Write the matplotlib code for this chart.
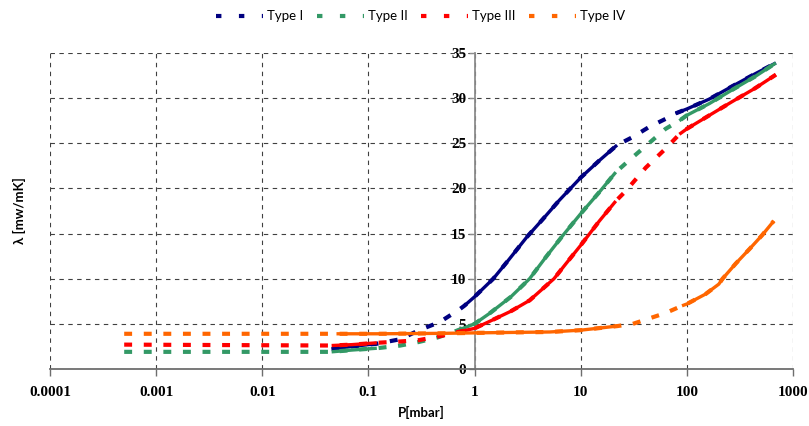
import numpy as np
import matplotlib
matplotlib.use("Agg")
import matplotlib.pyplot as plt
from matplotlib.lines import Line2D
from matplotlib.ticker import FixedLocator, FixedFormatter

# pressure [mbar] / conductivity [mW/mK]; flag 1 = measured (solid), 0 = gap (dashed)
p_type1 = [0.045, 0.07, 0.12, 0.2, 0.3, 0.47, 0.72, 0.8, 1.0, 1.5, 2.1, 3.1, 4.4, 6.3,
           10, 15, 22, 31, 44, 63, 78, 100, 163, 266, 440, 690]
l_type1 = [2.2, 2.5, 2.8, 3.3, 4.3, 5.2, 6.6, 7.0, 8.0, 10.0, 12.1, 14.6, 16.6, 18.7,
           21.2, 23.1, 24.8, 25.7, 26.8, 27.7, 28.3, 28.8, 29.9, 31.3, 32.7, 33.9]
f_type1 = [1, 1, 1, 0, 0, 0, 0, 1, 1, 1, 1, 1, 1, 1,
           1, 1, 1, 0, 0, 0, 1, 1, 1, 1, 1, 1]

p_type2 = [0.0005, 0.045, 0.07, 0.12, 0.2, 0.3, 0.45, 0.6, 0.7, 1.0, 1.4, 2.2, 3.3, 4.7,
           6.8, 10, 15, 21.4, 28.5, 41, 63, 85, 100, 163, 266, 440, 690]
l_type2 = [1.9, 1.9, 2.1, 2.3, 2.6, 3.0, 3.5, 4.0, 4.3, 5.0, 6.2, 8.0, 10.0, 12.4,
           14.8, 17.2, 19.6, 21.8, 23.1, 24.7, 26.6, 27.5, 28.1, 29.4, 30.9, 32.4, 33.9]
f_type2 = [0, 1, 1, 1, 0, 0, 0, 0, 1, 1, 1, 1, 1, 1,
           1, 1, 1, 1, 0, 0, 0, 1, 1, 1, 1, 1, 1]

p_type3 = [0.0005, 0.045, 0.07, 0.12, 0.2, 0.3, 0.5, 0.7, 1.0, 1.4, 2.2, 3.3, 5.6, 7.3,
           10, 15, 21.4, 26.5, 41, 63, 85, 100, 163, 266, 440, 690]
l_type3 = [2.7, 2.6, 2.7, 2.9, 3.05, 3.2, 3.7, 4.1, 4.5, 5.3, 6.4, 7.6, 10.0, 11.7,
           13.7, 16.4, 18.6, 19.7, 22.3, 24.4, 26.0, 26.6, 28.1, 29.6, 31.1, 32.6]
f_type3 = [0, 1, 1, 1, 0, 0, 0, 1, 1, 1, 1, 1, 1, 1,
           1, 1, 1, 0, 0, 0, 1, 1, 1, 1, 1, 1]

p_type4 = [0.0005, 0.05, 0.12, 0.5, 1.0, 5.1, 10, 22, 31, 63, 90, 100, 150, 200,
           217, 290, 390, 510, 660]
l_type4 = [3.9, 3.9, 3.9, 3.95, 4.0, 4.1, 4.3, 4.75, 5.0, 6.2, 7.0, 7.2, 8.3, 9.4,
           10.0, 11.7, 13.3, 14.8, 16.4]
f_type4 = [0, 1, 1, 1, 1, 1, 1, 1, 0, 0, 1, 1, 1, 1,
           1, 1, 1, 1, 1]

names = ["Type I", "Type II", "Type III", "Type IV"]
colors = ["#000080", "#339966", "#FF0000", "#FF6600"]

x_ticks = [1e-4, 1e-3, 1e-2, 1e-1, 1, 10, 100, 1000]
x_labels = ["0.0001", "0.001", "0.01", "0.1", "1", "10", "100", "1000"]
y_ticks = [0, 5, 10, 15, 20, 25, 30, 35]

series = [(p_type1, l_type1, f_type1), (p_type2, l_type2, f_type2),
          (p_type3, l_type3, f_type3), (p_type4, l_type4, f_type4)]

sans = ["Lato", "DejaVu Sans"]
serif = "Liberation Serif"

fig = plt.figure(figsize=(8.09, 4.26), dpi=100)
ax = fig.add_axes([50 / 809, 1 - 369 / 426, 743 / 809, 316 / 426])
ax.set_xscale("log")
ax.set_xlim(1e-4, 1e3)
ax.set_ylim(0, 35)


def draw_series(p, lam, flags, color):
    p = np.asarray(p)
    lam = np.asarray(lam)
    flags = np.asarray(flags)
    # whole series as thick dashes (gaps between measurements)
    ax.plot(p, lam, color=color, lw=3.0, dashes=(1.9, 2.8), solid_capstyle="butt",
            zorder=3)
    # measured runs drawn solid
    i = 0
    n = len(p)
    while i < n:
        if flags[i]:
            j = i
            while j + 1 < n and flags[j + 1]:
                j += 1
            if j > i:
                ax.plot(p[i:j + 1], lam[i:j + 1], color=color, lw=2.4,
                        solid_capstyle="butt", zorder=3)
            i = j + 1
        else:
            i += 1


for (p, lam, flags), c in zip(series, colors):
    draw_series(p, lam, flags, c)

# grid
ax.grid(True, which="major", color="#404040", lw=0.8, ls=(0, (4, 4)))
ax.set_axisbelow(True)

# spines: y-axis sits at P = 1
for s in ["top", "right"]:
    ax.spines[s].set_visible(False)
ax.spines["left"].set_position(("data", 1))
ax.spines["left"].set_color("#8c8c8c")
ax.spines["left"].set_linewidth(1.3)
ax.spines["bottom"].set_color("#6e6e6e")
ax.spines["bottom"].set_linewidth(1.3)

ax.xaxis.set_major_locator(FixedLocator(x_ticks))
ax.xaxis.set_major_formatter(FixedFormatter(x_labels))
ax.xaxis.set_minor_locator(FixedLocator([]))
ax.set_yticks(y_ticks)
ax.set_yticklabels([str(v) for v in y_ticks])

ax.tick_params(axis="x", length=5, width=1, color="#6e6e6e", pad=7)
ax.tick_params(axis="y", length=4, width=1, color="#8c8c8c", pad=2)
for lab in ax.get_xticklabels() + ax.get_yticklabels():
    lab.set_fontfamily(serif)
    lab.set_fontweight("bold")
    lab.set_fontsize(11)

ax.set_xlabel("P[mbar]", fontfamily=sans, fontweight="bold", fontsize=9.5)
ax.xaxis.set_label_coords(0.5, -0.118)
ax.set_ylabel("λ [mw/mK]", fontfamily=sans, fontweight="bold", fontsize=9.5)
ax.yaxis.set_label_coords(-0.032, 0.5)

handles = [Line2D([], [], color=c, lw=3.0, dashes=(1.3, 4.2)) for c in colors]
fig.legend(handles, names, loc="center", bbox_to_anchor=(0.52, 0.962), ncol=4,
           frameon=False, handlelength=3.6, handletextpad=0.3, columnspacing=1.0,
           prop={"family": sans, "size": 9.5})

fig.savefig("out.png", dpi=100)
